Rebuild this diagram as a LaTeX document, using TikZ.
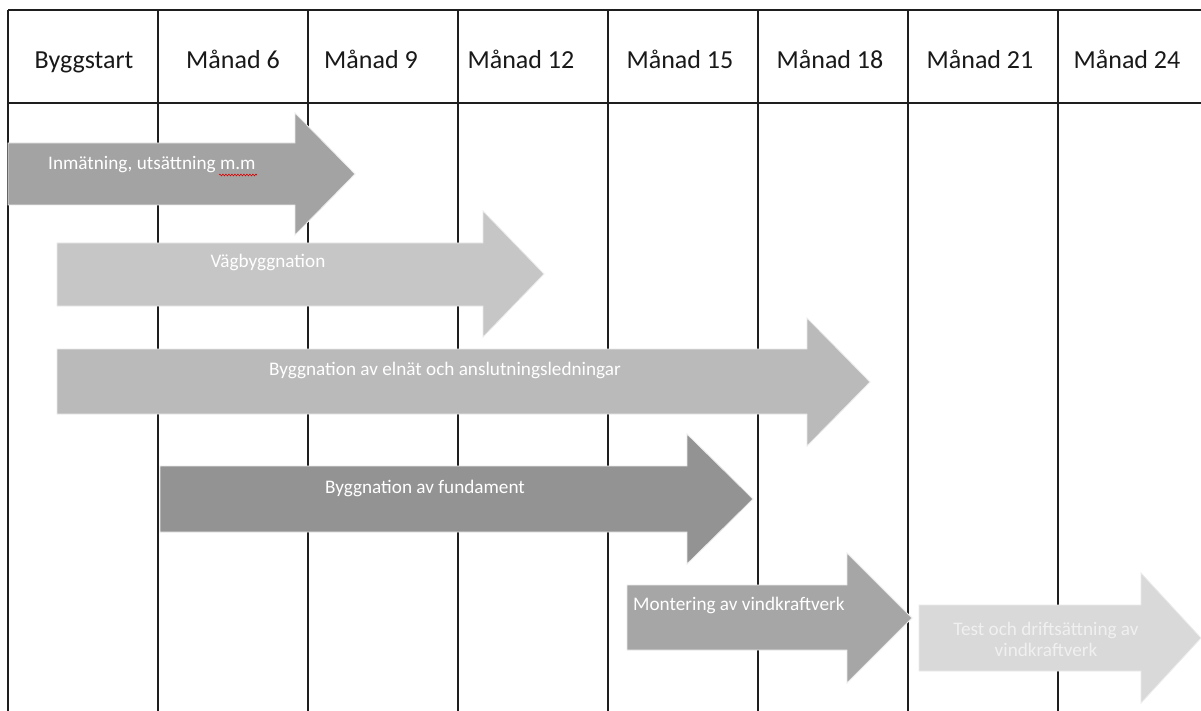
\documentclass[tikz,border=0pt]{standalone}
\usepackage{fontspec}
\setmainfont{Carlito}
\usetikzlibrary{decorations.pathmorphing}
\definecolor{gridc}{HTML}{1E1E1E}
\definecolor{aone}{HTML}{A3A3A3}
\definecolor{atwo}{HTML}{C6C6C6}
\definecolor{athree}{HTML}{BABABA}
\definecolor{afour}{HTML}{939393}
\definecolor{afive}{HTML}{A6A6A6}
\definecolor{asix}{HTML}{D9D9D9}
\tikzset{
  gridline/.style={draw=gridc, line width=1.4pt},
  head/.style={font=\fontsize{26}{31}\selectfont, text=black!90, anchor=base},
  barrow/.style={draw=white!92!black, line width=0.8pt, line join=miter},
  blabel/.style={font=\fontsize{19.2}{23}\selectfont, text=white, inner sep=0pt},
}
\begin{document}
\begin{tikzpicture}[x=1pt,y=-1pt]
\useasboundingbox[fill=white] (0,0) rectangle (1201,711);
% grid
\draw[gridline] (8,10) -- (1201,10);
\draw[gridline] (8,103) -- (1201,103);
\foreach \x in {8,158,308,458,608,758,908,1058}
  \draw[gridline] (\x,10) -- (\x,711);
% header labels
\node[head] (h0) at (84,69) {Byggstart};
\node[head] (h1) at (233,69) {Månad 6};
\node[head] (h2) at (371,69) {Månad 9};
\node[head] (h3) at (521,69) {Månad 12};
\node[head] (h4) at (680,69) {Månad 15};
\node[head] (h5) at (830,69) {Månad 18};
\node[head] (h6) at (980,69) {Månad 21};
\node[head] (h7) at (1127,69) {Månad 24};
% arrow 1
\path[barrow, fill=aone] (8,143) -- (295,143) -- (295,113) -- (355,174) -- (295,235) -- (295,205) -- (8,205) -- cycle;
\node[blabel, anchor=base west] (l1) at (48,170) {Inmätning, utsättning m.m};
\draw[red!85!black, line width=0.6pt, decorate, decoration={snake, amplitude=0.9pt, segment length=3pt}] (219,175) -- (257,175);
% arrow 2
\path[barrow, fill=atwo] (57,243) -- (483,243) -- (483,211) -- (544,274) -- (483,337) -- (483,306) -- (57,306) -- cycle;
\node[blabel, anchor=base] (l2) at (268,268) {Vägbyggnation};
% arrow 3
\path[barrow, fill=athree] (57,349) -- (807,349) -- (807,318) -- (870,382) -- (807,446) -- (807,414) -- (57,414) -- cycle;
\node[blabel, anchor=base] (l3) at (445,375) {Byggnation av elnät och anslutningsledningar};
% arrow 4
\path[barrow, fill=afour] (160,466) -- (687,466) -- (687,434) -- (753,499) -- (687,564) -- (687,532) -- (160,532) -- cycle;
\node[blabel, anchor=base] (l4) at (425,493) {Byggnation av fundament};
% arrow 5
\path[barrow, fill=afive] (627,585) -- (847,585) -- (847,553) -- (912,618) -- (847,683) -- (847,650) -- (627,650) -- cycle;
\node[blabel, anchor=base west] (l5) at (633,610) {Montering av vindkraftverk};
% arrow 6
\path[barrow, fill=asix] (919,605) -- (1141,605) -- (1141,573) -- (1201,638) -- (1141,703) -- (1141,671) -- (919,671) -- cycle;
\node[blabel, anchor=base, text=white!94!black] (l6a) at (1046,635) {Test och driftsättning av};
\node[blabel, anchor=base, text=white!94!black] (l6b) at (1046,656) {vindkraftverk};
\end{tikzpicture}
\end{document}
